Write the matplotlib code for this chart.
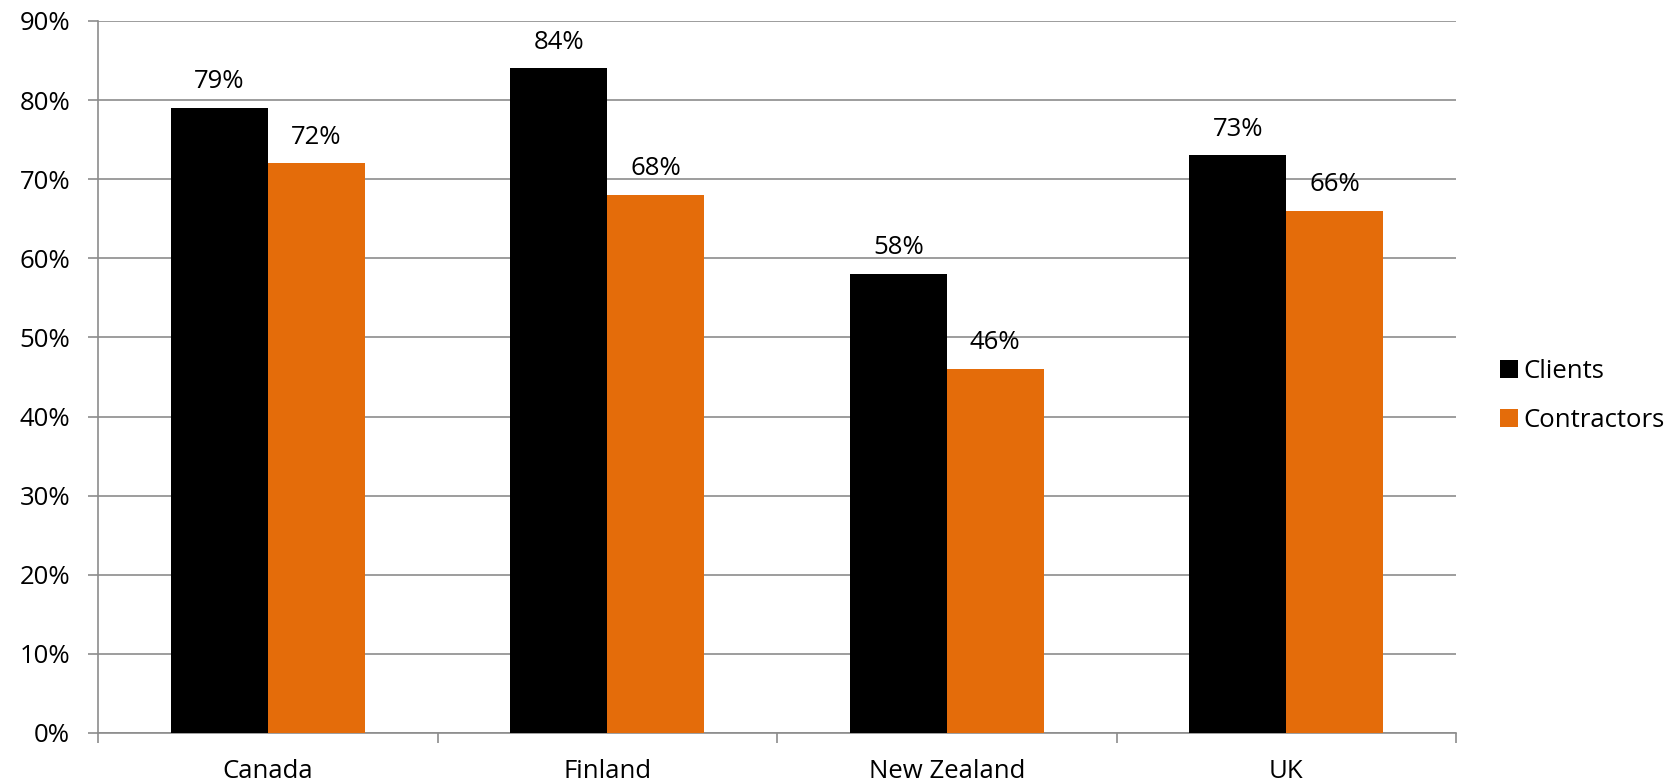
import matplotlib.pyplot as plt
import numpy as np
from matplotlib.ticker import FixedLocator, PercentFormatter

countries = ["Canada", "Finland", "New Zealand", "UK"]
clients = [79, 84, 58, 73]
contractors = [72, 68, 46, 66]
yticks = list(range(0, 91, 10))

BLACK = "#000000"
ORANGE = "#E46C0A"
GRID = "#8C8C8C"
FS = 18.5

plt.rcParams["font.family"] = ["Open Sans", "DejaVu Sans"]

fig = plt.figure(figsize=(16.78, 7.84), dpi=100)
ax = fig.add_axes([98 / 1678, 1 - 733 / 784, (1456 - 98) / 1678, (733 - 21) / 784])

x = np.arange(len(countries))
w = 1 / 3.5
b1 = ax.bar(x - w / 2, clients, w, color=BLACK, label="Clients", zorder=3)
b2 = ax.bar(x + w / 2, contractors, w, color=ORANGE, label="Contractors", zorder=3)

for bars, vals in ((b1, clients), (b2, contractors)):
    for r, v in zip(bars, vals):
        ax.annotate(f"{v}%", (r.get_x() + r.get_width() / 2, v),
                    xytext=(0, 10), textcoords="offset points",
                    ha="center", va="bottom", fontsize=FS, color="#000000")

ax.set_xlim(-0.5, 3.5)
ax.set_ylim(0, 90)
ax.set_yticks(yticks)
ax.yaxis.set_major_formatter(PercentFormatter(decimals=0))
ax.yaxis.grid(True, color=GRID, linewidth=1.2, zorder=0)

ax.set_xticks(x)
ax.set_xticklabels(countries)
ax.xaxis.set_minor_locator(FixedLocator(np.arange(-0.5, 4, 1)))
ax.tick_params(axis="x", which="major", length=0, pad=19, labelsize=FS)
ax.tick_params(axis="x", which="minor", length=7, color=GRID, width=1.2)
ax.tick_params(axis="y", length=7, color=GRID, width=1.2, labelsize=FS, pad=13)

for s in ("top", "right"):
    ax.spines[s].set_visible(False)
for s in ("left", "bottom"):
    ax.spines[s].set_color(GRID)
    ax.spines[s].set_linewidth(1.2)

ax.legend(loc="center left", bbox_to_anchor=(1.0324, 0.473), frameon=False,
          fontsize=FS, handlelength=0.7, handleheight=0.7, borderpad=0,
          borderaxespad=0, handletextpad=0.2, labelspacing=0.95)

fig.savefig("out.png", dpi=100)
